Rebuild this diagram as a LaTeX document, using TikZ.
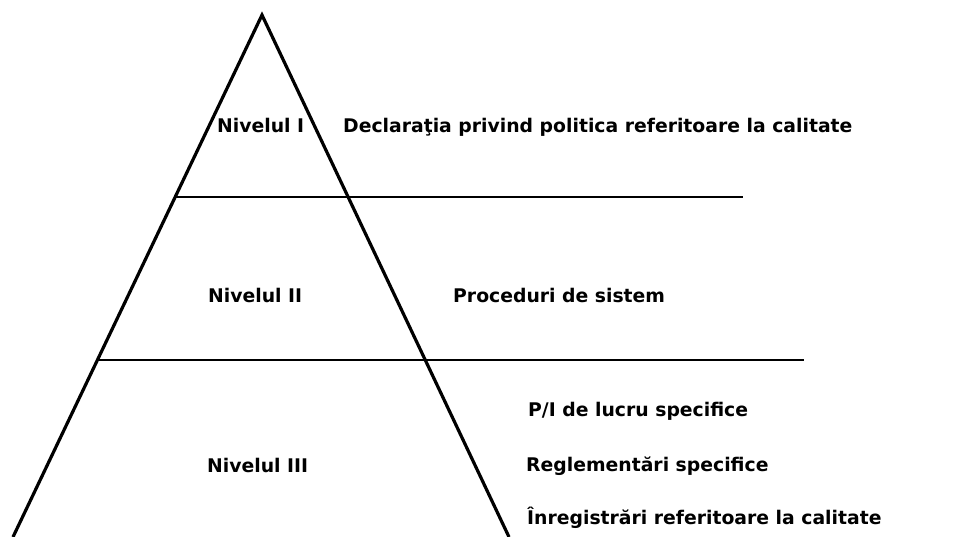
\documentclass[tikz,border=0pt]{standalone}
\usepackage{fontspec}
\setmainfont{DejaVu Sans}
\begin{document}
\begin{tikzpicture}[x=1pt,y=-1pt,
  side/.style={line width=3.2pt},
  level/.style={line width=2.2pt},
  lbl/.style={font=\bfseries\fontsize{18.8}{22}\selectfont, anchor=base west, inner sep=0pt}]
\useasboundingbox (0,0) rectangle (960,537);
\coordinate (apex) at (262,15);
\coordinate (bl) at (13,537);
\coordinate (br) at (509,537);
\draw[side] (bl) -- (apex) -- (br);
\coordinate (a1) at (175,197);
\coordinate (b1) at (743,197);
\coordinate (a2) at (97,360);
\coordinate (b2) at (804,360);
\draw[level] (a1) -- (b1);
\draw[level] (a2) -- (b2);
\node[lbl] (n1) at (217,132.5) {Nivelul I};
\node[lbl] (d1) at (343,132.5) {Declaraţia privind politica referitoare la calitate};
\node[lbl] (n2) at (208,302) {Nivelul II};
\node[lbl] (d2) at (453,302) {Proceduri de sistem};
\node[lbl] (n3) at (207,472) {Nivelul III};
\node[lbl] (d3a) at (528,416) {P/I de lucru specifice};
\node[lbl] (d3b) at (526,471.5) {Reglementări specifice};
\node[lbl] (d3c) at (527,524.5) {Înregistrări referitoare la calitate};
\end{tikzpicture}
\end{document}
